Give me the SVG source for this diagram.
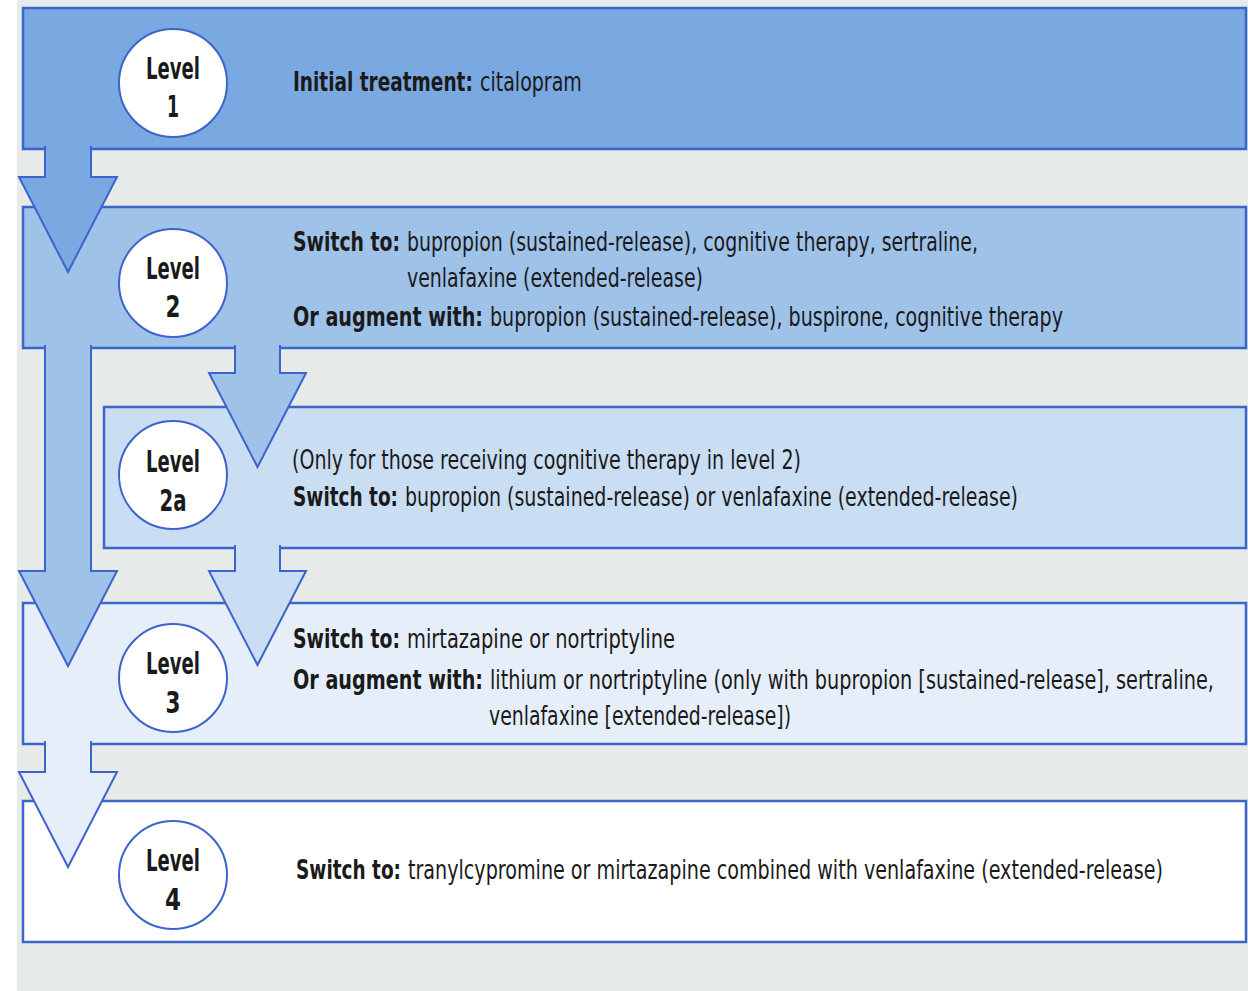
<svg xmlns="http://www.w3.org/2000/svg" width="1248" height="991" viewBox="0 0 1248 991">
  <style>
    .box { stroke: #3d63cc; stroke-width: 2.5; }
    .b1 { fill: #7aa8e0; }
    .b2 { fill: #9fc2e8; }
    .b2a { fill: #c9ddf3; }
    .b3 { fill: #e6eef9; }
    .b4 { fill: #ffffff; }
    .badge { fill: #ffffff; stroke: #3d63cc; stroke-width: 2; }
    .lvl { font-family: "Liberation Sans Narrow", "DejaVu Sans Condensed", "Liberation Sans", sans-serif; font-weight: bold; font-size: 31px; fill: #1a1a1a; text-anchor: middle; }
    .t { font-family: "Liberation Sans Narrow", "DejaVu Sans Condensed", "Liberation Sans", sans-serif; font-size: 26px; fill: #1a1a1a; }
    .bold { font-weight: bold; }
    .arrow { stroke: #3d63cc; stroke-width: 2; stroke-linejoin: miter; }
  </style>

  <rect x="0" y="0" width="1248" height="991" fill="#ffffff"/>
  <rect x="17" y="0" width="1231" height="991" fill="#e6ebe9"/>

  <!-- Level 1 -->
  <g id="level1">
    <rect class="box b1" x="23" y="8" width="1223" height="141"/>
    <circle class="badge" cx="173" cy="83" r="54"/>
    <text class="lvl" x="173" y="79" textLength="54" lengthAdjust="spacingAndGlyphs">Level</text>
    <text class="lvl" x="173" y="117" textLength="12" lengthAdjust="spacingAndGlyphs">1</text>
    <text class="t bold" transform="translate(293 91) scale(0.74 1)" textLength="243" lengthAdjust="spacingAndGlyphs">Initial treatment:</text>
    <text class="t" transform="translate(480 91) scale(0.76 1)" textLength="134" lengthAdjust="spacingAndGlyphs">citalopram</text>
  </g>

  <!-- Level 2 -->
  <g id="level2">
    <rect class="box b2" x="23" y="207" width="1223" height="141"/>
    <circle class="badge" cx="173" cy="283" r="54"/>
    <text class="lvl" x="173" y="279" textLength="54" lengthAdjust="spacingAndGlyphs">Level</text>
    <text class="lvl" x="173" y="317" textLength="15" lengthAdjust="spacingAndGlyphs">2</text>
    <text class="t bold" transform="translate(293 251) scale(0.74 1)" textLength="144.6" lengthAdjust="spacingAndGlyphs">Switch to:</text>
    <text class="t" transform="translate(407 251) scale(0.76 1)" textLength="751.3" lengthAdjust="spacingAndGlyphs">bupropion (sustained-release), cognitive therapy, sertraline,</text>
    <text class="t" transform="translate(407 287) scale(0.76 1)" textLength="389.5" lengthAdjust="spacingAndGlyphs">venlafaxine (extended-release)</text>
    <text class="t bold" transform="translate(293 326) scale(0.74 1)" textLength="256.8" lengthAdjust="spacingAndGlyphs">Or augment with:</text>
    <text class="t" transform="translate(490 326) scale(0.76 1)" textLength="753.9" lengthAdjust="spacingAndGlyphs">bupropion (sustained-release), buspirone, cognitive therapy</text>
  </g>

  <!-- Level 2a -->
  <g id="level2a">
    <rect class="box b2a" x="104" y="407" width="1142" height="141"/>
    <circle class="badge" cx="173" cy="475" r="54"/>
    <text class="lvl" x="173" y="472" textLength="54" lengthAdjust="spacingAndGlyphs">Level</text>
    <text class="lvl" x="173" y="511" textLength="27" lengthAdjust="spacingAndGlyphs">2a</text>
    <text class="t" transform="translate(292 469) scale(0.76 1)" textLength="669.7" lengthAdjust="spacingAndGlyphs">(Only for those receiving cognitive therapy in level 2)</text>
    <text class="t bold" transform="translate(293 506) scale(0.74 1)" textLength="141.9" lengthAdjust="spacingAndGlyphs">Switch to:</text>
    <text class="t" transform="translate(405 506) scale(0.76 1)" textLength="806.6" lengthAdjust="spacingAndGlyphs">bupropion (sustained-release) or venlafaxine (extended-release)</text>
  </g>

  <!-- Level 3 -->
  <g id="level3">
    <rect class="box b3" x="23" y="603" width="1223" height="141"/>
    <circle class="badge" cx="173" cy="678" r="54"/>
    <text class="lvl" x="173" y="674" textLength="54" lengthAdjust="spacingAndGlyphs">Level</text>
    <text class="lvl" x="173" y="713" textLength="15" lengthAdjust="spacingAndGlyphs">3</text>
    <text class="t bold" transform="translate(293 648) scale(0.74 1)" textLength="144.6" lengthAdjust="spacingAndGlyphs">Switch to:</text>
    <text class="t" transform="translate(407 648) scale(0.76 1)" textLength="352.6" lengthAdjust="spacingAndGlyphs">mirtazapine or nortriptyline</text>
    <text class="t bold" transform="translate(293 689) scale(0.74 1)" textLength="256.8" lengthAdjust="spacingAndGlyphs">Or augment with:</text>
    <text class="t" transform="translate(490 689) scale(0.76 1)" textLength="952.6" lengthAdjust="spacingAndGlyphs">lithium or nortriptyline (only with bupropion [sustained-release], sertraline,</text>
    <text class="t" transform="translate(489 725) scale(0.76 1)" textLength="397.4" lengthAdjust="spacingAndGlyphs">venlafaxine [extended-release])</text>
  </g>

  <!-- Level 4 -->
  <g id="level4">
    <rect class="box b4" x="23" y="801" width="1223" height="141"/>
    <circle class="badge" cx="173" cy="875" r="54"/>
    <text class="lvl" x="173" y="871" textLength="54" lengthAdjust="spacingAndGlyphs">Level</text>
    <text class="lvl" x="173" y="910" textLength="16" lengthAdjust="spacingAndGlyphs">4</text>
    <text class="t bold" transform="translate(296 879) scale(0.74 1)" textLength="141.9" lengthAdjust="spacingAndGlyphs">Switch to:</text>
    <text class="t" transform="translate(408 879) scale(0.76 1)" textLength="993.4" lengthAdjust="spacingAndGlyphs">tranylcypromine or mirtazapine combined with venlafaxine (extended-release)</text>
  </g>

  <!-- Block arrows: open paths so the edge joining the source box stays unstroked -->
  <g id="connectors">
    <path class="arrow b1" d="M45,146 L45,177 L19,177 L68,272 L117,177 L91,177 L91,146"/>
    <path class="arrow b2" d="M45,345 L45,571 L19,571 L68,666 L117,571 L91,571 L91,345"/>
    <path class="arrow b2" d="M235,345 L235,373 L209,373 L257.5,467 L306,373 L280,373 L280,345"/>
    <path class="arrow b2a" d="M235,545 L235,571 L209,571 L257.5,665 L306,571 L280,571 L280,545"/>
    <path class="arrow b3" d="M45,741 L45,772 L19,772 L68,867 L117,772 L91,772 L91,741"/>
  </g>
</svg>
